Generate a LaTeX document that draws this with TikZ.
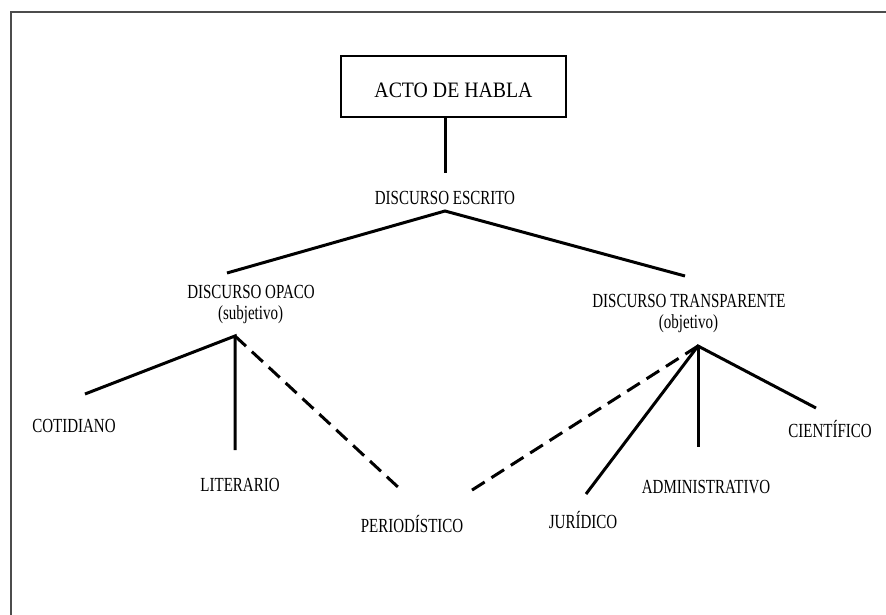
\documentclass[tikz,border=0pt]{standalone}
\usepackage{fontspec}
\usepackage{tikz}
\usetikzlibrary{positioning}

\newfontfamily\labelfont[FakeStretch=0.75]{Liberation Serif}
\newfontfamily\titlefont[FakeStretch=0.9]{Liberation Serif}

\begin{document}
\begin{tikzpicture}[x=1pt, y=-1pt,
        tipo/.style={anchor=base, inner sep=0pt, font=\labelfont\fontsize{20}{22}\selectfont},
        rama/.style={line width=3pt, line join=miter},
        ramapunteada/.style={line width=3pt, dash pattern=on 15pt off 8pt}]
        \useasboundingbox (0,0) rectangle (886,615);

        % 边框
        \draw[line width=2pt, black!70] (10.7,615) -- (10.7,11.7) -- (886,11.7);

        % 顶部方框
        \node[draw, line width=2pt, minimum width=225pt, minimum height=61pt, inner sep=0pt,
            text height=21.6pt, text depth=0pt, font=\titlefont\fontsize{22}{26}\selectfont]
            (acto) at (453.5, 86.5) {ACTO DE HABLA};

        % 各类话语
        \node[tipo] (escrito) at (445, 204) {DISCURSO ESCRITO};
        \node[tipo] (opaco) at (251, 298) {DISCURSO OPACO};
        \node[tipo] (opacosub) at (250.5, 319) {(subjetivo)};
        \node[tipo] (transparente) at (689, 307) {DISCURSO TRANSPARENTE};
        \node[tipo] (transparentesub) at (688.5, 328) {(objetivo)};

        \node[tipo] (cotidiano) at (74, 432) {COTIDIANO};
        \node[tipo] (literario) at (240, 491) {LITERARIO};
        \node[tipo] (periodistico) at (412, 532) {PERIODÍSTICO};
        \node[tipo] (juridico) at (583, 528) {JURÍDICO};
        \node[tipo] (administrativo) at (706, 493) {ADMINISTRATIVO};
        \node[tipo] (cientifico) at (830, 437) {CIENTÍFICO};

        % 连线端点
        \coordinate (escritotop) at (445, 173);
        \coordinate (escritopie) at (445, 211);
        \coordinate (opacotop) at (227, 273);
        \coordinate (transparentetop) at (685, 276);
        \coordinate (opacopie) at (235, 336);
        \coordinate (transparentepie) at (698, 346);
        \coordinate (cotidianotop) at (85, 394);
        \coordinate (literariotop) at (235, 450);
        \coordinate (periodisticoizq) at (399, 488);
        \coordinate (periodisticoder) at (469, 492);
        \coordinate (juridicotop) at (586, 494);
        \coordinate (administrativotop) at (698, 447);
        \coordinate (cientificotop) at (816, 408);

        % 树枝
        \draw[rama] (acto.south -| escritotop) -- (escritotop);
        \draw[rama] (opacotop) -- (escritopie) -- (transparentetop);
        \draw[rama] (cotidianotop) -- (opacopie) -- (literariotop);
        \draw[ramapunteada] (opacopie) -- (periodisticoizq);
        \draw[ramapunteada] (transparentepie) -- (periodisticoder);
        \draw[rama] (juridicotop) -- (transparentepie) -- (cientificotop);
        \draw[rama] (transparentepie) -- (administrativotop);
    \end{tikzpicture}
\end{document}
